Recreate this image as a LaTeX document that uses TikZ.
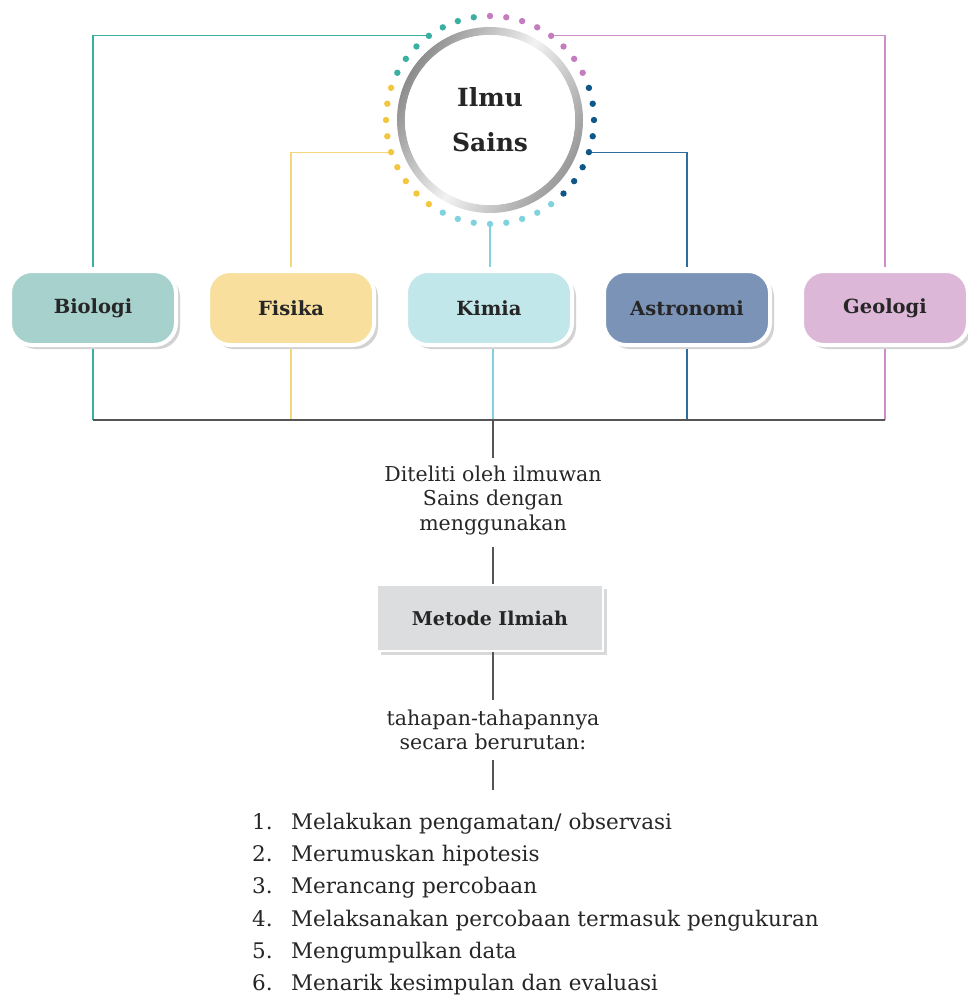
\documentclass[tikz,border=0pt]{standalone}
\usepackage{fontspec}
\setmainfont{DejaVu Serif}
\usetikzlibrary{shadows}
\definecolor{tealc}{HTML}{3AB0A3}
\definecolor{yelc}{HTML}{F2C73E}
\definecolor{yell}{HTML}{F5D67C}
\definecolor{cyac}{HTML}{7FD2DE}
\definecolor{bluc}{HTML}{0F5689}
\definecolor{blul}{HTML}{2F6E9B}
\definecolor{pinc}{HTML}{C47CBF}
\definecolor{pinl}{HTML}{CC8EC6}
\definecolor{biof}{HTML}{A7D1CD}
\definecolor{fisf}{HTML}{F8DF9D}
\definecolor{kimf}{HTML}{C1E7EA}
\definecolor{astf}{HTML}{7A93B6}
\definecolor{geof}{HTML}{DDB7D7}
\definecolor{metf}{HTML}{DCDDDF}
\definecolor{darkl}{HTML}{555555}
\begin{document}
\begin{tikzpicture}[x=1pt,y=-1pt,
  conn/.style={line width=1.2pt},
  catbox/.style={rounded corners=22pt, minimum width=166pt, minimum height=74pt,
    draw=white, line width=4pt, text=black!85,
    font=\bfseries\fontsize{19.5}{22}\selectfont,
    drop shadow={shadow xshift=4pt, shadow yshift=-4pt, fill=black!25, opacity=0.7}},
  body/.style={font=\fontsize{20.5}{24.5}\selectfont, text=black!85, align=center, inner sep=0pt},
  dot/.style={radius=3.2pt}]
\useasboundingbox (0,0) rectangle (968,996);
\coordinate (cen) at (490,120);
\coordinate (dT) at ([shift={(126:104pt)}]cen);
\coordinate (dY) at ([shift={(198:104pt)}]cen);
\coordinate (dC) at ([shift={(270:104pt)}]cen);
\coordinate (dB) at ([shift={(342:104pt)}]cen);
\coordinate (dP) at ([shift={(54:104pt)}]cen);
% category boxes
\node[catbox, fill=biof] (bio) at (93,308) {Biologi};
\node[catbox, fill=fisf] (fis) at (291,308) {Fisika};
\node[catbox, fill=kimf] (kim) at (489,308) {Kimia};
\node[catbox, fill=astf] (ast) at (687,308) {Astronomi};
\node[catbox, fill=geof] (geo) at (885,308) {Geologi};
% connectors from centre
\draw[conn, tealc] (dT) -| ([yshift=2pt]bio.north);
\draw[conn, yell] (dY) -| ([yshift=2pt]fis.north);
\draw[conn, cyac] (dC) -- ([yshift=2pt]dC |- kim.north);
\draw[conn, blul] (dB) -| ([yshift=2pt]ast.north);
\draw[conn, pinl] (dP) -| ([yshift=2pt]geo.north);
% ring
\shade[even odd rule, left color=black!45, right color=black!40, middle color=black!5, shading angle=60]
  (cen) circle[radius=93pt] (cen) circle[radius=85pt];
\node[circle, fill=white, minimum size=170pt, inner sep=0pt, align=center,
  font=\bfseries\fontsize{25}{45}\selectfont, text=black!85] (ilmu) at (cen) {Ilmu\\Sains};
% dots
\foreach \a in {99,108,...,153} \fill[tealc] ([shift={(\a:104pt)}]cen) circle[dot];
\foreach \a in {162,171,...,234} \fill[yelc] ([shift={(\a:104pt)}]cen) circle[dot];
\foreach \a in {243,252,...,306} \fill[cyac] ([shift={(\a:104pt)}]cen) circle[dot];
\foreach \a in {315,324,...,378} \fill[bluc] ([shift={(\a:104pt)}]cen) circle[dot];
\foreach \a in {27,36,...,90} \fill[pinc] ([shift={(\a:104pt)}]cen) circle[dot];
% lower connectors
\coordinate (hub) at (493,420);
\draw[conn, tealc] ([yshift=-2pt]bio.south) -- (bio.south |- hub);
\draw[conn, yell] ([yshift=-2pt]fis.south) -- (fis.south |- hub);
\draw[conn, cyac] ([yshift=-2pt]hub |- kim.south) -- (hub);
\draw[conn, blul] ([yshift=-2pt]ast.south) -- (ast.south |- hub);
\draw[conn, pinl] ([yshift=-2pt]geo.south) -- (geo.south |- hub);
\draw[conn, darkl] (bio.south |- hub) -- (geo.south |- hub);
% text and method
\node[body] (dit) at (493,500) {Diteliti oleh ilmuwan\\Sains dengan\\menggunakan};
\node[rectangle, fill=metf, draw=white, line width=2pt, minimum width=226pt, minimum height=66pt,
  font=\bfseries\fontsize{19}{22}\selectfont, text=black!85,
  drop shadow={shadow xshift=4pt, shadow yshift=-4pt, fill=black!30}] (met) at (490,618) {Metode Ilmiah};
\node[body] (tah) at (493,730) {tahapan-tahapannya\\secara berurutan:};
\node[body, font=\fontsize{21.5}{32.2}\selectfont, align=left, anchor=north west] (lst) at (252,813) {%
\makebox[39pt][l]{1.}Melakukan pengamatan/ observasi\\
\makebox[39pt][l]{2.}Merumuskan hipotesis\\
\makebox[39pt][l]{3.}Merancang percobaan\\
\makebox[39pt][l]{4.}Melaksanakan percobaan termasuk pengukuran\\
\makebox[39pt][l]{5.}Mengumpulkan data\\
\makebox[39pt][l]{6.}Menarik kesimpulan dan evaluasi};
\coordinate (e1) at (493,458);
\coordinate (e2) at (493,700);
\coordinate (e3) at (493,760);
\coordinate (e4) at (493,790);
\draw[conn, darkl] (hub) -- (e1);
\draw[conn, darkl, shorten <=12pt] (hub |- dit.south) -- (hub |- met.north);
\draw[conn, darkl] (hub |- met.south) -- (e2);
\draw[conn, darkl] (e3) -- (e4);
\end{tikzpicture}
\end{document}
